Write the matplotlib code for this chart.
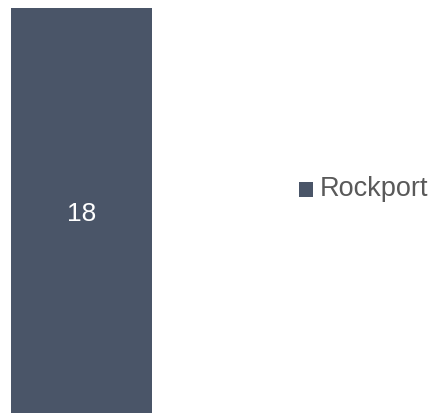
import matplotlib
matplotlib.use("Agg")
import matplotlib.pyplot as plt

# ── Data ──────────────────────────────────────────────────────────────────────
categories = ["Rockport"]
values = [18]
bar_color = "#4A5568"

plt.rcParams["font.family"] = ["Liberation Sans", "DejaVu Sans"]

fig = plt.figure(figsize=(4.30, 4.14), dpi=100)
ax = fig.add_axes([11 / 430, 0, 141 / 430, 405 / 414])

bars = ax.bar([0], values, width=1.0, color=bar_color, label=categories[0])
ax.set_xlim(-0.5, 0.5)
ax.set_ylim(0, max(values))
ax.axis("off")

# value label in the middle of the bar
for b, v in zip(bars, values):
    ax.text(b.get_x() + b.get_width() / 2, v / 2, str(v),
            ha="center", va="center_baseline", color="white", fontsize=19)

leg = fig.legend(loc="center left", bbox_to_anchor=(299 / 430, 1 - 189 / 414),
                 frameon=False, borderpad=0, borderaxespad=0,
                 handlelength=0.5, handleheight=0.5, handletextpad=0.25,
                 fontsize=19.5, labelcolor="#595959")
# the square sits on the text baseline in the original
for h in leg.legend_handles:
    h.set_y(h.get_y() - 3)

fig.savefig("out.png", dpi=100)
